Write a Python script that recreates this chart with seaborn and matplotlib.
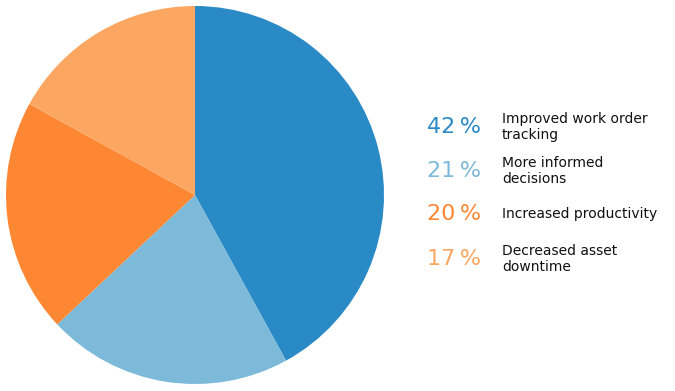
import matplotlib
matplotlib.use("Agg")
import matplotlib.pyplot as plt
import seaborn as sns

# survey results
labels = ["Improved work order\ntracking", "More informed\ndecisions",
          "Increased productivity", "Decreased asset\ndowntime"]
values = [42, 21, 20, 17]
colors = ["#2a8ac6", "#7db9d9", "#fe8734", "#fba762"]

sns.set_style("white")
plt.rcParams["font.family"] = ["DejaVu Sans"]

fig = plt.figure(figsize=(6.75, 3.91), dpi=100)
ax = fig.add_axes([6 / 675, 7 / 391, 378 / 675, 378 / 391])
ax.pie(values, colors=colors, startangle=90, counterclock=False, radius=1,
       wedgeprops={"linewidth": 0})
ax.set_xlim(-1, 1)
ax.set_ylim(-1, 1)
ax.set_aspect("equal")

# legend-like text column
row_y = [127, 171, 214, 259]
for v, lab, c, y in zip(values, labels, colors, row_y):
    fy = 1 - y / 391
    fig.text(427 / 675, fy, f"{v}\u2009%", color=c, fontsize=16, va="center", ha="left")
    fig.text(502 / 675, fy, lab, color="#111111", fontsize=10, va="center",
             ha="left", linespacing=1.25)

fig.savefig("out.png", dpi=100)
